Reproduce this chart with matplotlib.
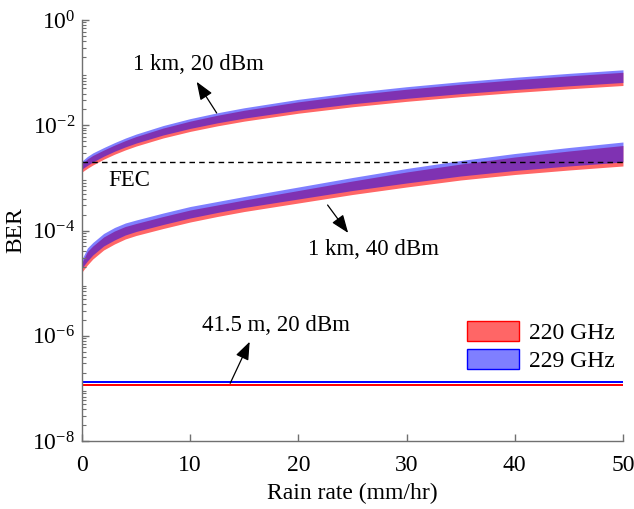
import matplotlib
matplotlib.use("Agg")
import matplotlib.pyplot as plt
from matplotlib.patches import Patch
import numpy as np

plt.rcParams['font.family'] = ['Liberation Serif', 'DejaVu Serif']
plt.rcParams['mathtext.fontset'] = 'custom'
plt.rcParams['mathtext.rm'] = 'Liberation Serif'
plt.rcParams['mathtext.it'] = 'Liberation Serif:italic'
plt.rcParams['mathtext.bf'] = 'Liberation Serif:bold'

# ---------------- data ----------------
rain = [0, 0.5, 1, 2, 3, 4, 5, 7.5, 10, 12.5, 15, 20, 25, 30, 35, 40, 45, 50]

# 1 km, 20 dBm
ber_1km20_229_hi = [2.09e-3, 2.55e-3, 2.98e-3, 3.76e-3, 4.67e-3, 5.70e-3, 6.80e-3, 9.87e-3, 1.337e-2,
                    1.725e-2, 2.151e-2, 3.108e-2, 4.194e-2, 5.400e-2, 6.721e-2, 8.151e-2, 9.685e-2, 0.1132]
ber_1km20_229_lo = [1.475e-3, 1.731e-3, 2.001e-3, 2.578e-3, 3.202e-3, 3.873e-3, 4.584e-3, 6.536e-3, 8.711e-3,
                    1.109e-2, 1.366e-2, 1.930e-2, 2.559e-2, 3.246e-2, 3.985e-2, 4.774e-2, 5.611e-2, 6.495e-2]
ber_1km20_220_hi = [1.88e-3, 2.29e-3, 2.67e-3, 3.37e-3, 4.19e-3, 5.11e-3, 6.10e-3, 8.85e-3, 1.198e-2,
                    1.547e-2, 1.928e-2, 2.786e-2, 3.759e-2, 4.841e-2, 6.024e-2, 7.307e-2, 8.682e-2, 0.1015]
ber_1km20_220_lo = [1.294e-3, 1.518e-3, 1.755e-3, 2.261e-3, 2.809e-3, 3.397e-3, 4.021e-3, 5.733e-3, 7.641e-3,
                    9.725e-3, 1.198e-2, 1.693e-2, 2.245e-2, 2.847e-2, 3.496e-2, 4.188e-2, 4.922e-2, 5.697e-2]

# 1 km, 40 dBm
ber_1km40_229_hi = [2.873e-5, 4.650e-5, 5.916e-5, 8.770e-5, 1.140e-4, 1.388e-4, 1.583e-4, 2.150e-4, 2.858e-4,
                    3.557e-4, 4.428e-4, 6.708e-4, 1.017e-3, 1.507e-3, 2.139e-3, 2.905e-3, 3.777e-3, 4.805e-3]
ber_1km40_229_lo = [1.938e-5, 2.633e-5, 3.423e-5, 5.076e-5, 6.599e-5, 8.213e-5, 9.572e-5, 1.300e-4, 1.728e-4,
                    2.198e-4, 2.735e-4, 3.969e-4, 5.755e-4, 7.990e-4, 1.085e-3, 1.381e-3, 1.682e-3, 2.004e-3]
ber_1km40_220_hi = [2.465e-5, 3.990e-5, 5.076e-5, 7.524e-5, 9.783e-5, 1.191e-4, 1.358e-4, 1.845e-4, 2.452e-4,
                    3.052e-4, 3.798e-4, 5.755e-4, 8.721e-4, 1.293e-3, 1.835e-3, 2.493e-3, 3.241e-3, 4.123e-3]
ber_1km40_220_lo = [1.627e-5, 2.210e-5, 2.873e-5, 4.261e-5, 5.540e-5, 6.895e-5, 8.035e-5, 1.091e-4, 1.450e-4,
                    1.845e-4, 2.296e-4, 3.332e-4, 4.832e-4, 6.708e-4, 9.112e-4, 1.159e-3, 1.411e-3, 1.682e-3]

# 41.5 m, 20 dBm (flat)
ber_41m20_229 = [1.30e-7] * len(rain)
ber_41m20_220 = [1.17e-7] * len(rain)

fec_limit = 2.0e-3

legend_labels = ['220 GHz', '229 GHz']
xticks = [0, 10, 20, 30, 40, 50]

# ---------------- plot ----------------
red_face = (1.0, 0.0, 0.0, 0.6)
blue_face = (0.0, 0.0, 1.0, 0.5)

fig = plt.figure(figsize=(6.34, 5.09), dpi=100)
ax = fig.add_axes([0.1293, 0.1336, 0.8533, 0.8271])

ax.fill_between(rain, ber_1km20_220_lo, ber_1km20_220_hi, color=red_face, lw=0)
ax.fill_between(rain, ber_1km40_220_lo, ber_1km40_220_hi, color=red_face, lw=0)
ax.fill_between(rain, ber_1km20_229_lo, ber_1km20_229_hi, color=blue_face, lw=0)
ax.fill_between(rain, ber_1km40_229_lo, ber_1km40_229_hi, color=blue_face, lw=0)

ax.plot(rain, ber_41m20_220, color='red', lw=1.4)
ax.plot(rain, ber_41m20_229, color='blue', lw=1.4)

ax.axhline(fec_limit, color='k', ls=(0, (4, 3)), lw=1.0)

ax.set_yscale('log')
ax.set_xlim(0, 50)
ax.set_ylim(1e-8, 1)
ax.set_xticks(xticks)
ax.set_yticks([1e-8, 1e-6, 1e-4, 1e-2, 1e0])
ax.yaxis.set_minor_locator(matplotlib.ticker.LogLocator(base=10, subs=np.arange(2, 10), numticks=20))

for s in ['top', 'right']:
    ax.spines[s].set_visible(False)
for s in ['left', 'bottom']:
    ax.spines[s].set_color('#707070')
    ax.spines[s].set_linewidth(1.0)

ax.tick_params(which='major', direction='in', length=5, width=1.0, color='#707070',
               labelsize=17, labelcolor='black')
ax.tick_params(axis='x', which='major', pad=10)
ax.tick_params(axis='y', which='major', pad=5)
ax.tick_params(which='minor', direction='in', length=3, width=0.8, color='#707070')

ax.set_xlabel('Rain rate (mm/hr)', fontsize=17, labelpad=5)
ax.set_ylabel('BER', fontsize=17, labelpad=4)

fs = 16.5
arrow_kw = dict(arrowstyle='-|>,head_length=1.1,head_width=0.42', color='k', lw=0.9,
                shrinkA=0, shrinkB=0)
ax.text(10.8, 0.14, '1 km, 20 dBm', fontsize=fs, ha='center', va='center')
ax.annotate('', xy=(10.6, 6.7e-2), xytext=(12.45, 1.71e-2), arrowprops=arrow_kw)
ax.text(26.9, 4.3e-5, '1 km, 40 dBm', fontsize=fs, ha='center', va='center')
ax.annotate('', xy=(24.6, 9.0e-5), xytext=(22.7, 3.05e-4), arrowprops=arrow_kw)
ax.text(17.9, 1.6e-6, '41.5 m, 20 dBm', fontsize=fs, ha='center', va='center')
ax.annotate('', xy=(15.5, 7.7e-7), xytext=(13.7, 1.25e-7), arrowprops=arrow_kw)
ax.text(4.4, 9.0e-4, 'FEC', fontsize=fs, ha='center', va='center')

handles = [Patch(facecolor=red_face, edgecolor='red', lw=1.0),
           Patch(facecolor=blue_face, edgecolor='blue', lw=1.0)]
ax.legend(handles, legend_labels, loc='upper left', bbox_to_anchor=(0.712, 0.285),
          frameon=False, fontsize=17, handlelength=2.2, handleheight=0.95,
          handletextpad=0.4, labelspacing=0.2, borderpad=0, borderaxespad=0)

fig.savefig('out.png', dpi=100)
